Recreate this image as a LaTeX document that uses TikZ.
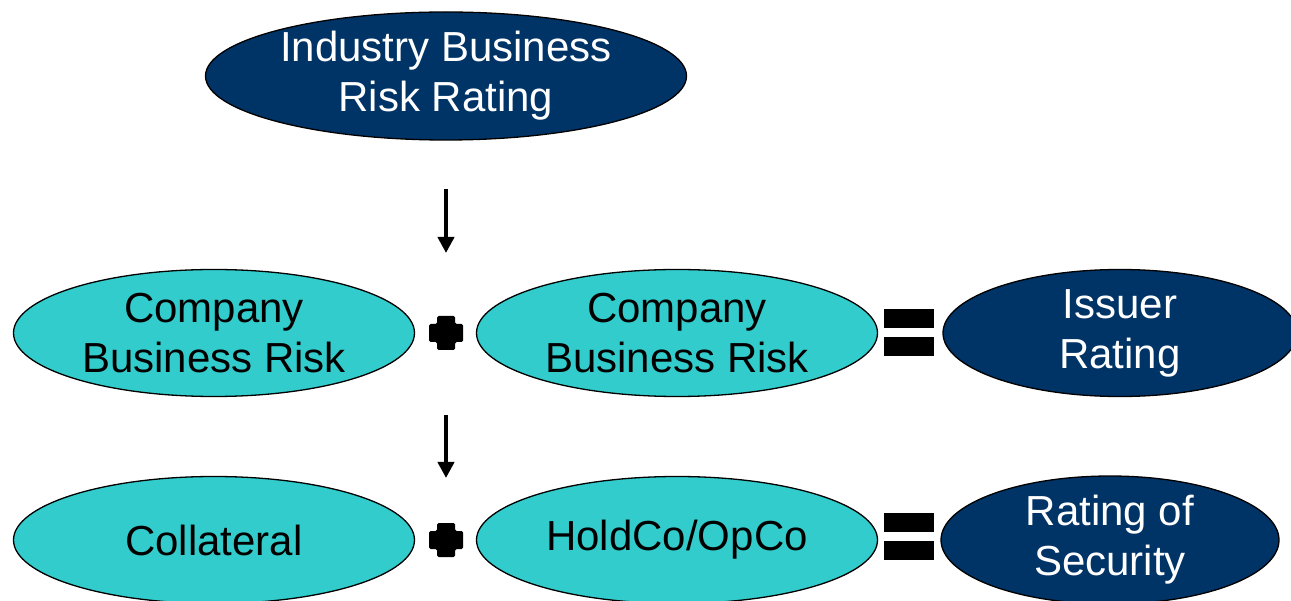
\documentclass[tikz,border=0pt]{standalone}
\usepackage{fontspec}
\setmainfont{Liberation Sans}
\usetikzlibrary{shapes.geometric,arrows.meta}
\definecolor{navy}{RGB}{0,51,102}
\definecolor{teal2}{RGB}{51,204,204}
\tikzset{
  ellbase/.style={ellipse, draw=black, line width=1.3pt, inner sep=0pt},
  darkell/.style={ellbase, fill=navy},
  lightell/.style={ellbase, fill=teal2},
  wtext/.style={text=white, align=center, font=\fontsize{42}{50}\selectfont, inner sep=0pt},
  btext/.style={text=black, align=center, font=\fontsize{42}{50}\selectfont, inner sep=0pt},
  flowarrow/.style={line width=4pt, -{Triangle[width=16pt,length=16pt]}},
  opmark/.style={fill=black, draw=none}
}
\begin{document}
\begin{tikzpicture}[x=1pt,y=-1pt]
\useasboundingbox (0,0) rectangle (1291,601);
\clip (0,0) rectangle (1291,601);
% top
\node[darkell, minimum width=481pt, minimum height=128pt] (irr) at (446,76) {};
\node[wtext] (irrt) at (irr.center) {Industry Business\\Risk Rating};
% row 2
\node[lightell, minimum width=401pt, minimum height=127pt] (cbr1) at (214,333) {};
\node[btext] (cbr1t) at (cbr1.center) {Company\\Business Risk};
\node[lightell, minimum width=401pt, minimum height=127pt] (cbr2) at (677,333) {};
\node[btext] (cbr2t) at (cbr2.center) {Company\\Business Risk};
\node[darkell, minimum width=354pt, minimum height=127pt] (iss) at (1120,333) {};
\node[wtext] (isst) at (iss.center) {Issuer\\Rating};
% row 3
\node[lightell, minimum width=401pt, minimum height=127pt] (col) at (214,540) {};
\node[btext] (colt) at (col.center) {Collateral};
\node[lightell, minimum width=401pt, minimum height=127pt] (hold) at (677,540) {};
\node[btext] (holdt) at (hold.center) {HoldCo/OpCo};
\node[darkell, minimum width=338pt, minimum height=128pt] (ros) at (1110,540) {};
\node[wtext] (rost) at (ros.center) {Rating of\\Security};
% arrows
\coordinate (a1s) at (446,189);
\coordinate (a1e) at (446,253);
\coordinate (a2s) at (446,415);
\coordinate (a2e) at (446,478);
\draw[flowarrow] (a1s) -- (a1e);
\draw[flowarrow] (a2s) -- (a2e);
% plus signs
\foreach \cy in {333,540}{
  \begin{scope}[shift={(446,\cy)}]
    \fill[opmark, rounded corners=1.5pt] (-9,-17) -- (9,-17) -- (9,-9) -- (17,-9) -- (17,9) -- (9,9)
      -- (9,17) -- (-9,17) -- (-9,9) -- (-17,9) -- (-17,-9) -- (-9,-9) -- cycle;
  \end{scope}
}
% equals signs
\foreach \cy in {332.5,536.5}{
  \begin{scope}[shift={(909,\cy)}]
    \fill[opmark] (-25,-23.5) rectangle (25,-4.5);
    \fill[opmark] (-25,4.5) rectangle (25,23.5);
  \end{scope}
}
\end{tikzpicture}
\end{document}
